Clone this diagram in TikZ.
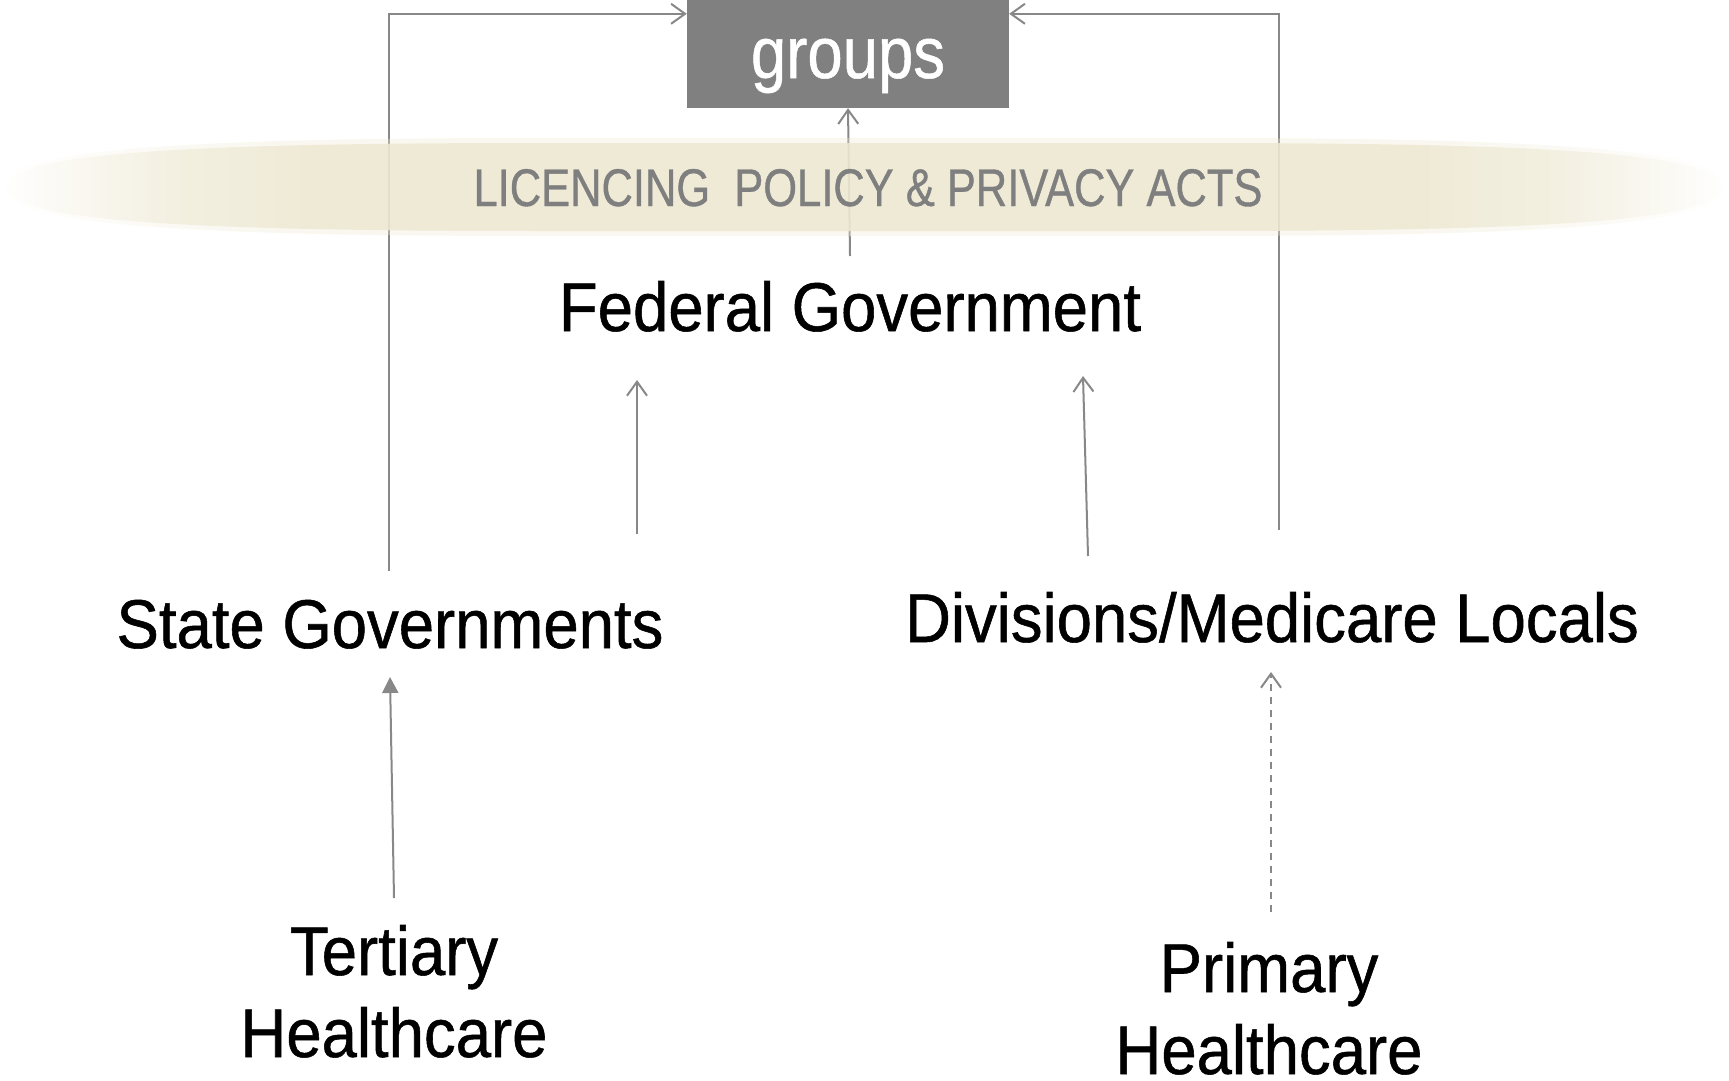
\documentclass[tikz,border=0pt]{standalone}
\usepackage{fontspec}
\setmainfont[FakeStretch=0.92,FakeBold=0.8]{Liberation Sans}
\newfontfamily\bandfont[FakeStretch=0.82,FakeBold=0.7]{Liberation Sans}
\newfontfamily\groupfont[FakeStretch=0.87,FakeBold=0.7]{Liberation Sans}
\usetikzlibrary{arrows.meta,calc}
\definecolor{linegray}{HTML}{888888}
\definecolor{boxgray}{HTML}{808080}
\definecolor{bandbeige}{HTML}{EDE8D2}
\definecolor{bandtext}{HTML}{7F7F7F}
\pgfdeclarehorizontalshading{bandshade}{100bp}{color(0bp)=(white); color(25bp)=(white); color(27.5bp)=(bandbeige!40!white); color(30bp)=(bandbeige!75!white); color(34bp)=(bandbeige); color(66bp)=(bandbeige); color(70bp)=(bandbeige!75!white); color(72.5bp)=(bandbeige!40!white); color(75bp)=(white); color(100bp)=(white)}
\begin{document}
\begin{tikzpicture}[x=1pt,y=-1pt,
  lab/.style={font=\fontsize{69}{82}\selectfont, inner sep=0pt, anchor=base, align=center},
  conn/.style={draw=linegray, line width=2pt},
  barb/.style={-{Straight Barb[length=14pt,width=20pt]}},
  tri/.style={-{Triangle[length=16pt,width=16pt]}}]
\useasboundingbox (0,0) rectangle (1729,1081);
% nodes
\node[fill=boxgray, minimum width=322pt, minimum height=108pt, inner sep=0pt, text=white,
      font=\groupfont\fontsize{73}{73}\selectfont, text height=48pt, text depth=0pt] (groups) at (848,54) {groups};
\node[lab] (fed) at (850,331) {Federal Government};
\node[lab] (state) at (390,648) {State Governments};
\node[lab] (div) at (1272,642) {Divisions/Medicare Locals};
\node[lab] (tert) at (394,1057) {Tertiary\\Healthcare};
\node[lab] (prim) at (1269,1074) {Primary\\Healthcare};
% connectors
\draw[conn,barb] ([xshift=-1pt,yshift=77pt]state.base) |- ([yshift=-14pt]groups.north west);
\draw[conn,barb] ([xshift=7pt,yshift=112pt]div.base) |- ([yshift=-14pt]groups.north east);
\draw[conn,barb] ([yshift=75pt]fed.base) -- (groups.south);
\draw[conn,barb] ([xshift=247pt,yshift=114pt]state.base) -- ([xshift=-213pt,yshift=-49pt]fed.base);
\draw[conn,barb] ([xshift=-184pt,yshift=86pt]div.base) -- ([xshift=233pt,yshift=-45pt]fed.base);
\draw[conn,tri] ([yshift=159pt]tert.base) -- ([yshift=-29pt]state.base);
\draw[conn,barb,dash pattern=on 7pt off 6pt] ([xshift=2pt,yshift=162pt]prim.base) -- ([xshift=-1pt,yshift=-30pt]div.base);
% band
\shade[shading=bandshade, opacity=0.35]
  (1,187) .. controls (1,148) and (200,138) .. (540,138) -- (1190,138)
  .. controls (1529,138) and (1728,148) .. (1728,187)
  .. controls (1728,226) and (1529,236) .. (1190,236) -- (540,236)
  .. controls (200,236) and (1,226) .. (1,187) -- cycle;
\shade[shading=bandshade, opacity=0.85]
  (6,187) .. controls (6,152) and (200,143) .. (540,143) -- (1190,143)
  .. controls (1529,143) and (1723,152) .. (1723,187)
  .. controls (1723,222) and (1529,231) .. (1190,231) -- (540,231)
  .. controls (200,231) and (6,222) .. (6,187) -- cycle;
\node[inner sep=0pt, anchor=base, text=bandtext, font=\bandfont\fontsize{53}{53}\selectfont] (acts) at (868,206) {LICENCING\ \ POLICY \& PRIVACY ACTS};
\end{tikzpicture}
\end{document}
